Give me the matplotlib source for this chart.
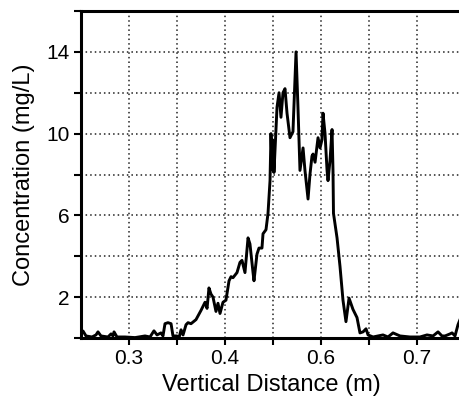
import matplotlib
matplotlib.use("Agg")
import matplotlib.pyplot as plt
import numpy as np

# Vertical distance (axis units) and concentration (mg/L)
distance = [0.2500, 0.2521, 0.2552, 0.2615, 0.2656, 0.2677, 0.2708, 0.2781, 0.2813, 0.2833,
            0.2844, 0.2875, 0.2958, 0.3063, 0.3167, 0.3219, 0.3260, 0.3292, 0.3333, 0.3354,
            0.3375, 0.3406, 0.3438, 0.3458, 0.3500, 0.3521, 0.3542, 0.3563, 0.3594, 0.3615,
            0.3646, 0.3698, 0.3750, 0.3792, 0.3813, 0.3833, 0.3854, 0.3875, 0.3906, 0.3927,
            0.3948, 0.3979, 0.4010, 0.4042, 0.4063, 0.4083, 0.4125, 0.4156, 0.4177, 0.4208,
            0.4240, 0.4260, 0.4292, 0.4302, 0.4333, 0.4354, 0.4385, 0.4396, 0.4427, 0.4448,
            0.4469, 0.4479, 0.4490, 0.4495, 0.4500, 0.4505, 0.4510, 0.4542, 0.4563, 0.4583,
            0.4604, 0.4625, 0.4646, 0.4677, 0.4708, 0.4740, 0.4760, 0.4781, 0.4813, 0.4833,
            0.4865, 0.4885, 0.4906, 0.4917, 0.4938, 0.4969, 0.4990, 0.5010, 0.5021, 0.5042,
            0.5063, 0.5073, 0.5094, 0.5115, 0.5125, 0.5130, 0.5167, 0.5198, 0.5229, 0.5260,
            0.5292, 0.5333, 0.5375, 0.5406, 0.5438, 0.5469, 0.5490, 0.5542, 0.5646, 0.5698,
            0.5750, 0.5823, 0.5927, 0.6031, 0.6104, 0.6167, 0.6219, 0.6260, 0.6292, 0.6344,
            0.6365, 0.6396, 0.6427, 0.6448]
concentration = [0.24, 0.34, 0.10, 0.05, 0.15, 0.30, 0.10, 0.05, 0.20, 0.10,
                 0.30, 0.05, 0.05, 0.02, 0.10, 0.05, 0.35, 0.15, 0.25, 0.10,
                 0.70, 0.75, 0.70, 0.10, 0.10, 0.00, 0.40, 0.15, 0.65, 0.75,
                 0.70, 0.90, 1.35, 1.75, 1.45, 2.45, 2.15, 2.00, 1.30, 1.70,
                 1.20, 1.75, 1.85, 2.80, 3.00, 2.95, 3.20, 3.70, 3.80, 3.20,
                 4.90, 4.60, 3.20, 2.80, 4.10, 4.40, 4.40, 5.10, 5.30, 6.10,
                 7.70, 10.0, 8.40, 9.70, 8.20, 9.40, 8.10, 11.3, 12.0, 10.8,
                 12.0, 12.2, 11.0, 9.80, 10.1, 14.0, 11.3, 8.20, 9.30, 8.20,
                 6.80, 8.00, 8.90, 9.00, 8.60, 9.80, 9.30, 9.70, 11.0, 10.0,
                 8.20, 7.70, 8.70, 10.2, 8.20, 6.10, 4.90, 3.50, 1.85, 0.80,
                 1.95, 1.40, 1.00, 0.25, 0.30, 0.45, 0.15, 0.05, 0.15, 0.05,
                 0.25, 0.10, 0.05, 0.05, 0.15, 0.10, 0.30, 0.10, 0.10, 0.20,
                 0.25, 0.10, 0.65, 0.90]

x_ticks = [0.30, 0.35, 0.40, 0.45, 0.50, 0.55, 0.60]
x_tick_labels = ["0.3", "", "0.4", "", "0.6", "", "0.7"]
y_ticks = [0, 2, 4, 6, 8, 10, 12, 14, 16]
y_tick_labels = ["", "2", "", "6", "", "10", "", "14", ""]

plt.rcParams['font.family'] = ['Liberation Sans', 'DejaVu Sans']

fig = plt.figure(figsize=(4.59, 3.97), dpi=100)
ax = fig.add_axes([81/459, 59/397, 380/459, 327/397])

ax.plot(distance, concentration, color='black', lw=2.1, solid_joinstyle='round', clip_on=True)

ax.set_xlim(0.25, 0.25 + 380/960)
ax.set_ylim(0, 16)
ax.set_xticks(x_ticks)
ax.set_xticklabels(x_tick_labels)
ax.set_yticks(y_ticks)
ax.set_yticklabels(y_tick_labels)

ax.grid(True, color='#222222', linestyle=(0, (1, 2)), lw=1.1)
ax.tick_params(direction='out', length=5, width=1.5, labelsize=15, pad=3, color='black')

for s in ['left', 'top', 'bottom']:
    ax.spines[s].set_linewidth(2.2)
ax.spines['right'].set_visible(False)

ax.set_xlabel("Vertical Distance (m)", fontsize=17, labelpad=4)
ax.set_ylabel("Concentration (mg/L)", fontsize=17, labelpad=8)

fig.savefig("out.png", dpi=100)
